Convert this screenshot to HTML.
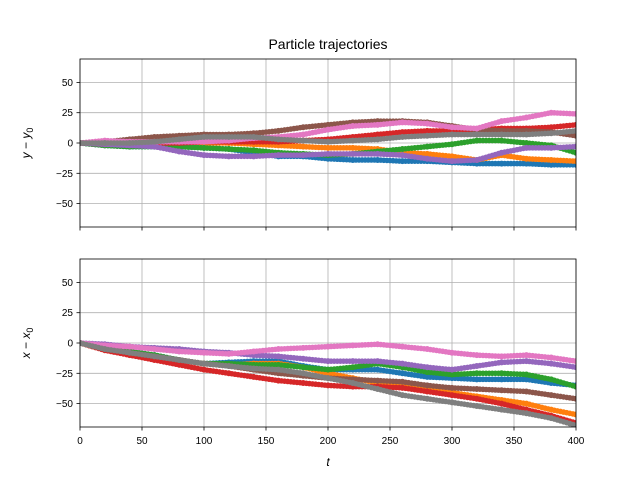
<!DOCTYPE html>
<html><head><meta charset="utf-8"><style>
body{margin:0;background:#fff}
svg{font-family:"Liberation Sans","DejaVu Sans",sans-serif}
</style></head><body>
<svg id="c" width="640" height="480" xmlns="http://www.w3.org/2000/svg">
<defs>
<clipPath id="ct"><rect x="80" y="59" width="496" height="168"/></clipPath>
<clipPath id="cb"><rect x="80" y="259" width="496" height="168"/></clipPath>
</defs>
<text x="328" y="49" font-size="14" text-anchor="middle">Particle trajectories</text>
<g id="top"></g>
<g id="bot"></g>
<text transform="translate(30,143) rotate(-90)" font-size="12" text-anchor="middle"><tspan font-style="italic">y</tspan> − <tspan font-style="italic">y</tspan><tspan font-size="9" dy="3">0</tspan></text>
<text transform="translate(30,343) rotate(-90)" font-size="12" text-anchor="middle"><tspan font-style="italic">x</tspan> − <tspan font-style="italic">x</tspan><tspan font-size="9" dy="3">0</tspan></text>
<text x="328" y="466" font-size="12" font-style="italic" text-anchor="middle">t</text>
</svg>
<script>
const times = [0,20,40,60,80,100,120,140,160,180,200,220,240,260,280,300,320,340,360,380,400];
const colors = ["#1f77b4","#ff7f0e","#2ca02c","#d62728","#9467bd","#8c564b","#e377c2","#7f7f7f"];
const xTicks = [0,50,100,150,200,250,300,350,400];
const yTicks = [50,25,0,-25,-50];
const yTop = [
[0,-2,-3,-3,-3,-4,-5,-8,-11,-11,-13,-14,-14,-15,-15,-16,-17,-17,-17,-18,-18],
[0,1,1,0,0,0,0,-1,-2,-3,-4,-4,-5,-8,-9,-11,-14,-10,-13,-14,-15],
[0,-2,-3,-3,-3,-4,-5,-6,-8,-9,-10,-9,-7,-5,-3,-1,2,2,0,-2,-8],
[0,-1,-1,0,0,1,1,1,1,2,3,5,7,9,10,10,11,12,12,13,15],
[0,-1,-2,-3,-7,-10,-11,-11,-10,-10,-9,-9,-9,-10,-13,-15,-14,-8,-4,-4,-3],
[0,1,3,5,6,7,7,8,10,13,15,17,18,18,17,14,11,10,10,9,6],
[0,2,1,1,1,1,2,4,5,7,11,14,15,17,16,13,12,18,21,25,24],
[0,0,0,1,3,5,5,5,3,2,1,2,3,5,6,7,7,7,7,8,10]
];
const yBot = [
[0,-4,-7,-10,-14,-17,-16,-15,-15,-19,-22,-22,-22,-25,-28,-29,-30,-30,-30,-33,-35],
[0,-4,-7,-11,-14,-17,-18,-17,-17,-20,-25,-29,-33,-36,-39,-41,-44,-47,-50,-55,-59],
[0,-4,-7,-10,-14,-17,-17,-18,-18,-20,-22,-20,-17,-20,-24,-26,-25,-25,-26,-30,-36],
[0,-6,-10,-14,-18,-22,-25,-28,-31,-33,-35,-36,-36,-37,-40,-43,-46,-50,-55,-60,-66],
[0,-1,-3,-4,-5,-7,-8,-10,-11,-13,-15,-15,-15,-17,-20,-22,-19,-16,-15,-17,-20],
[0,-5,-8,-11,-14,-17,-19,-22,-25,-27,-29,-30,-31,-32,-35,-37,-38,-39,-40,-43,-46],
[0,-2,-3,-5,-7,-8,-9,-7,-5,-4,-3,-2,-1,-3,-5,-8,-10,-11,-10,-12,-15],
[0,-5,-8,-11,-14,-17,-19,-21,-22,-25,-29,-33,-38,-43,-46,-49,-52,-55,-58,-62,-68]
];
const NS="http://www.w3.org/2000/svg";
const xs = t => 80 + t*1.24;
function mk(tag, attrs, parent){const e=document.createElementNS(NS,tag);for(const k in attrs)e.setAttribute(k,attrs[k]);parent.appendChild(e);return e;}
function panel(g, top, data, clip, labelsX, prefix){
  const zeroY = top + 84;
  const ys = v => zeroY - v*1.212;
  xTicks.forEach(t=>{
    const l=mk('line',{x1:xs(t),x2:xs(t),y1:top,y2:top+168,stroke:'#b0b0b0','stroke-width':0.8},g);
    
    
    const tk=mk('line',{x1:xs(t),x2:xs(t),y1:top+168,y2:top+171.5,stroke:'#000','stroke-width':0.8},g);
    
    
    if(labelsX){
      const tx=mk('text',{x:xs(t),y:top+185,'font-size':10,'text-anchor':'middle'},g);
      tx.textContent=t;
      
      
    }
  });
  yTicks.forEach(v=>{
    const l=mk('line',{x1:80,x2:576,y1:ys(v),y2:ys(v),stroke:'#b0b0b0','stroke-width':0.8},g);
    
    
    const tk=mk('line',{x1:76.5,x2:80,y1:ys(v),y2:ys(v),stroke:'#000','stroke-width':0.8},g);
    
    
    const tx=mk('text',{x:73,y:ys(v)+3.5,'font-size':10,'text-anchor':'end'},g);
    tx.textContent=(v<0?'−'+(-v):v);
    
    
  });
  const sg=mk('g',{'clip-path':'url(#'+clip+')'},g);
  data.forEach((s,i)=>{
    const pts=s.map((v,j)=>xs(times[j])+','+ys(v)).join(' ');
    const pl=mk('polyline',{points:pts,fill:'none',stroke:colors[i],'stroke-width':4,'stroke-linejoin':'round'},sg);
    
    
    for(let j=0;j<s.length;j++){
      const c=mk('circle',{cx:xs(times[j]),cy:ys(s[j]),r:3,fill:colors[i]},sg);
      
      
      if(j<s.length-1){
        const x0=xs(times[j]),y0=ys(s[j]),x1=xs(times[j+1]),y1=ys(s[j+1]);
        const n=8;
        for(let k=1;k<n;k++){
          const m=mk('circle',{cx:x0+(x1-x0)*k/n,cy:y0+(y1-y0)*k/n,r:2.8,fill:colors[i]},sg);
          
          
        }
      }
    }
  });
  const fr=mk('rect',{x:80,y:top,width:496,height:168,fill:'none',stroke:'#000','stroke-width':0.8},g);
  
  
}
panel(document.getElementById('top'),59,yTop,'ct',false,'top');
panel(document.getElementById('bot'),259,yBot,'cb',true,'bottom');
</script>
</body></html>
